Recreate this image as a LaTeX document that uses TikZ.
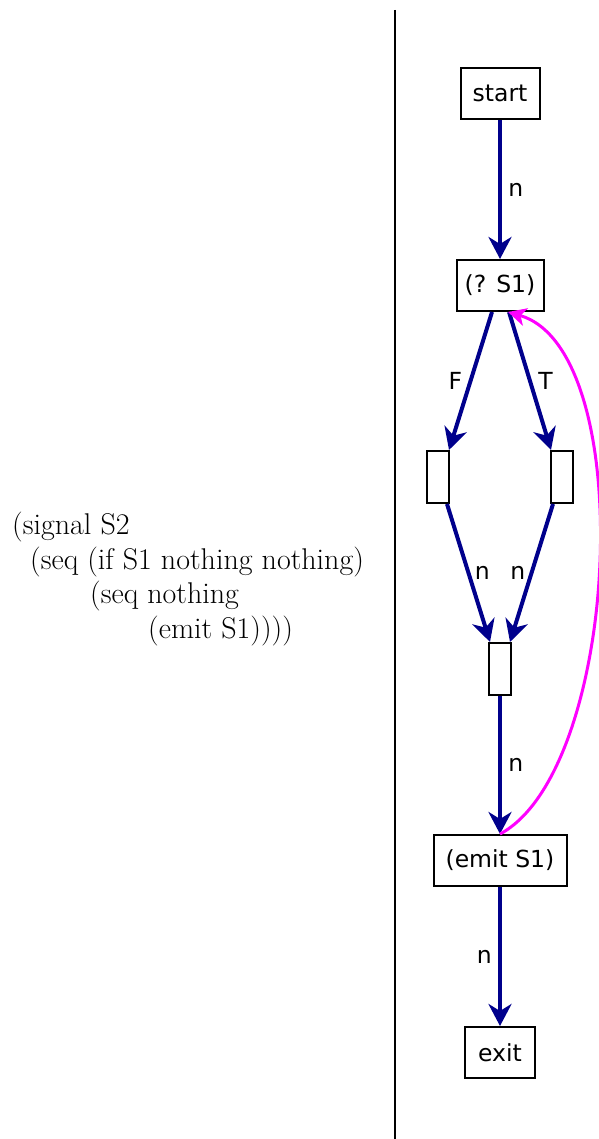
\documentclass[tikz,border=0pt]{standalone}
\usepackage{fontspec}
\newfontfamily\nodefont{DejaVu Sans}
\usetikzlibrary{arrows.meta}
\definecolor{edgeblue}{RGB}{0,0,140}
\definecolor{loopmag}{RGB}{255,0,255}

\begin{document}
\begin{tikzpicture}[x=1pt, y=-1pt,
  every node/.style={font=\nodefont\fontsize{23.5}{27}\selectfont},
  cfgbox/.style={draw, line width=2pt, fill=white, minimum height=51pt, inner sep=0pt},
  flow/.style={draw=edgeblue, line width=4pt, -{Stealth[length=22pt, width=23pt, inset=7pt]}},
  loopback/.style={draw=loopmag, line width=3pt, -{Stealth[length=18pt, width=18pt, inset=5pt]}}]
\useasboundingbox (0,0) rectangle (598,1139);

% term on the left
\node[anchor=west, align=left, inner sep=0pt, font=\fontsize{30}{34.5}\selectfont] (term) at (12,579)
  {(signal S2\\
   \hspace*{18pt}(seq (if S1 nothing nothing)\\
   \hspace*{78pt}(seq nothing\\
   \hspace*{136pt}(emit S1))))};

% divider
\coordinate (top) at (395,10);
\coordinate (bot) at (395,1139);
\draw[line width=2pt] (top) -- (bot);

% control flow graph
\node[cfgbox, minimum width=79pt] (start) at (500,93.5) {start};
\node[cfgbox, minimum width=87pt] (test) at (500,285.5) {(? S1)};
\node[cfgbox, minimum width=22pt, minimum height=52pt] (nothF) at (438,477) {};
\node[cfgbox, minimum width=22pt, minimum height=52pt] (nothT) at (562,477) {};
\node[cfgbox, minimum width=22pt, minimum height=52pt] (join) at (500,669) {};
\node[cfgbox, minimum width=133pt] (emit) at (500,860.5) {(emit S1)};
\node[cfgbox, minimum width=70pt] (exit) at (500,1052.5) {exit};

\draw[flow] (start) -- node[right, xshift=3pt] {n} (test);
\draw[flow] ([xshift=-8pt]test.south) -- node[left, xshift=-3pt] {F} ([xshift=-1pt]nothF.north east);
\draw[flow] ([xshift=9pt]test.south) -- node[right, xshift=3pt] {T} ([xshift=1pt]nothT.north west);
\draw[flow] ([xshift=-3pt]nothF.south east) -- node[right, xshift=1pt] {n} ([xshift=2pt]join.north west);
\draw[flow] ([xshift=3pt]nothT.south west) -- node[left, xshift=-1pt] {n} ([xshift=-2pt]join.north east);
\draw[flow] (join) -- node[right, xshift=3pt] {n} (emit);
\draw[flow] (emit) -- node[left, xshift=-3pt] {n} (exit);
\draw[loopback] (emit.north) .. controls (620,770) and (640,350) .. ([xshift=8pt]test.south);
\end{tikzpicture}
\end{document}
